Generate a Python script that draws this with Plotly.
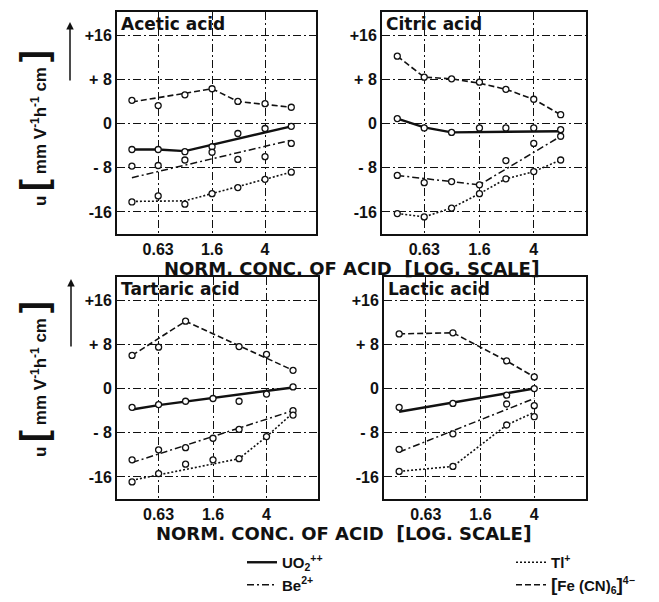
import plotly.graph_objects as go

# ---------------- data ----------------
conc = [0.4, 0.63, 1.0, 1.6, 2.5, 4.0, 6.3]          # normality of acid (log scale)
x_tickvals = [0.63, 1.6, 4.0]
x_ticktext = ["0.63", "1.6", "4"]
y_tickvals = [-16, -8, 0, 8, 16]
y_ticktext = ["-16", "- 8", "0", "+ 8", "+16"]

panel_titles = ["Acetic acid", "Citric acid", "Tartaric acid", "Lactic acid"]
ion_names = ["UO<sub>2</sub><sup>++</sup>", "Be<sup>2+</sup>", "Tl<sup>+</sup>",
             "<span style='font-size:19px'>[</span>Fe (CN)<sub>6</sub><span style='font-size:19px'>]</span><sup>4−</sup>"]

# measured mobilities u [mm V^-1 h^-1 cm] (points) and drawn curves (fit)
acetic_uo2_pts = [-4.7, -4.7, -5.1, -4.2, -1.8, -0.9, -0.5]
acetic_be_pts = [-7.7, -7.6, -6.6, -5.2, -6.5, -6.0, -3.6]
acetic_tl_pts = [-14.2, -13.1, -14.6, -12.7, -11.6, -10.1, -8.8]
acetic_fe_pts = [4.2, 3.25, 5.2, 6.3, 4.0, 3.6, 2.95]
acetic_uo2_fit = [-4.7, -4.7, -5.0, None, None, None, -0.5]
acetic_be_fit = [-9.8, None, None, None, None, None, -3.0]
acetic_tl_fit = [-14.1, None, -14.0, None, None, None, -8.8]
acetic_fe_fit = [3.9, None, None, 6.3, 4.0, None, 2.95]

citric_uo2_pts = [0.9, -0.8, -1.6, -0.8, -0.8, -0.8, -1.1]
citric_be_pts = [-9.4, -10.7, -10.5, -11.1, -6.7, -3.6, -2.3]
citric_tl_pts = [-16.3, -16.9, -15.3, -12.7, -10.0, -8.7, -6.6]
citric_fe_pts = [12.2, 8.4, 8.1, 7.5, 6.2, 4.4, 1.6]
citric_uo2_fit = [0.9, -0.7, -1.6, None, None, None, -1.4]
citric_be_fit = [-9.4, None, -10.5, -11.1, None, None, -2.3]
citric_tl_fit = [-16.3, -16.9, -15.3, -12.7, -10.0, -8.7, -6.6]
citric_fe_fit = [12.2, 8.4, 8.1, 7.3, 6.2, 4.4, 1.6]

tartaric_uo2_pts = [-3.4, -2.9, -2.3, -1.8, -2.3, -1.0, 0.3]
tartaric_be_pts = [-12.9, -11.1, -10.7, -9.0, -7.4, None, -4.0]
tartaric_tl_pts = [-16.9, -15.4, -13.7, -12.9, -12.7, -8.7, -4.8]
tartaric_fe_pts = [6.0, 7.5, 12.2, None, 7.6, 6.2, 3.3]
tartaric_uo2_fit = [-3.8, -3.0, None, None, None, None, 0.2]
tartaric_be_fit = [-13.4, None, None, None, None, None, -4.0]
tartaric_tl_fit = [-16.6, None, None, None, -12.7, -8.7, -4.4]
tartaric_fe_fit = [6.0, None, 12.2, None, None, None, 3.3]

lactic_uo2_pts = [-3.4, None, -2.7, None, -1.2, 0.0, None]
lactic_be_pts = [-11.0, None, -8.2, None, -2.8, -3.1, None]
lactic_tl_pts = [-15.0, None, -14.1, None, -6.6, -5.1, None]
lactic_fe_pts = [9.9, None, 10.1, None, 5.0, 2.1, None]
lactic_uo2_fit = [-4.2, None, None, None, None, 0.0, None]
lactic_be_fit = [-11.5, None, None, None, None, -1.8, None]
lactic_tl_fit = [-15.0, None, -14.1, None, -6.6, -4.3, None]
lactic_fe_fit = [9.9, None, 10.1, None, 5.0, 2.1, None]

panels = [
    [(acetic_uo2_pts, acetic_uo2_fit), (acetic_be_pts, acetic_be_fit),
     (acetic_tl_pts, acetic_tl_fit), (acetic_fe_pts, acetic_fe_fit)],
    [(citric_uo2_pts, citric_uo2_fit), (citric_be_pts, citric_be_fit),
     (citric_tl_pts, citric_tl_fit), (citric_fe_pts, citric_fe_fit)],
    [(tartaric_uo2_pts, tartaric_uo2_fit), (tartaric_be_pts, tartaric_be_fit),
     (tartaric_tl_pts, tartaric_tl_fit), (tartaric_fe_pts, tartaric_fe_fit)],
    [(lactic_uo2_pts, lactic_uo2_fit), (lactic_be_pts, lactic_be_fit),
     (lactic_tl_pts, lactic_tl_fit), (lactic_fe_pts, lactic_fe_fit)],
]

# ---------------- styles ----------------
INK = "#111111"
FONT = "Liberation Sans"
WIDE = "DejaVu Sans"
W, H = 659, 602
line_styles = [
    dict(color=INK, width=2.4, dash="solid"),
    dict(color=INK, width=1.5, dash="7px,3px,2px,3px"),
    dict(color=INK, width=1.6, dash="2px,2px"),
    dict(color=INK, width=1.6, dash="6px,3px"),
]
legend_of = ["legend", "legend", "legend2", "legend2"]

# panel geometry in pixels (left, right, top, bottom)
boxes = [(117, 316, 12, 234), (382, 586, 12, 234),
         (117, 318, 277, 499), (384, 586, 277, 499)]

fig = go.Figure()
for p, series in enumerate(panels):
    xa = "x" if p == 0 else f"x{p+1}"
    ya = "y" if p == 0 else f"y{p+1}"
    for i, (pts, fit) in enumerate(series):
        fig.add_trace(go.Scatter(
            x=conc, y=fit, mode="lines", connectgaps=True,
            line=line_styles[i], name=ion_names[i],
            showlegend=(p == 0), legend=legend_of[i],
            xaxis=xa, yaxis=ya, hoverinfo="skip"))
        fig.add_trace(go.Scatter(
            x=conc, y=pts, mode="markers", showlegend=False,
            marker=dict(symbol="circle", size=6, color="white",
                        line=dict(color=INK, width=1.3)),
            xaxis=xa, yaxis=ya))

tickfont = dict(size=16, family=FONT, weight="bold")
layout = dict(
    width=W, height=H, margin=dict(l=0, r=0, t=0, b=0),
    paper_bgcolor="white", plot_bgcolor="white",
    font=dict(family=FONT, color=INK, size=16, weight="bold"),
)
for p, (l, r, t, b) in enumerate(boxes):
    sx = "" if p == 0 else str(p + 1)
    layout[f"xaxis{sx}"] = dict(
        domain=[l / W, r / W], type="log", range=[-0.51, 0.985], automargin=False,
        anchor=f"y{sx}", tickvals=x_tickvals, ticktext=x_ticktext,
        showline=True, linewidth=2, linecolor=INK, mirror=True,
        showgrid=True, gridcolor=INK, gridwidth=1, griddash="8px,3px,2px,3px",
        ticks="", zeroline=False, tickfont=tickfont)
    layout[f"yaxis{sx}"] = dict(
        domain=[1 - b / H, 1 - t / H], range=[-20, 20.2], automargin=False,
        anchor=f"x{sx}", tickvals=y_tickvals, ticktext=y_ticktext,
        showline=True, linewidth=2, linecolor=INK, mirror=True,
        showgrid=True, gridcolor=INK, gridwidth=1, griddash="8px,3px,2px,3px",
        ticks="", zeroline=False, tickfont=tickfont)

legfont = dict(size=15, family=FONT, weight="bold")
layout["legend"] = dict(x=242 / W, y=1 - 546 / H, xanchor="left", yanchor="top",
                        bgcolor="rgba(0,0,0,0)", font=legfont,
                        itemwidth=30, tracegroupgap=0)
layout["legend2"] = dict(x=511 / W, y=1 - 546 / H, xanchor="left", yanchor="top",
                         bgcolor="rgba(0,0,0,0)", font=legfont,
                         itemwidth=30, tracegroupgap=0)
fig.update_layout(**layout)

ann = []
for p, title in enumerate(panel_titles):
    sx = "" if p == 0 else str(p + 1)
    ann.append(dict(text=title, xref=f"x{sx} domain", yref=f"y{sx} domain",
                    x=0.012, y=1, xanchor="left", yanchor="top", yshift=0,
                    showarrow=False, font=dict(size=17, family=WIDE, weight="bold")))

ylab = ("u <span style='font-size:36px'>[</span> mm V<sup>-1</sup>h<sup>-1</sup> cm "
        "<span style='font-size:36px'>]</span>")
for yc in (128, 379):
    ann.append(dict(text=ylab, xref="paper", yref="paper", x=33 / W, y=1 - yc / H,
                    xanchor="center", yanchor="middle",
                    textangle=-90, showarrow=False,
                    font=dict(size=17, family=FONT, weight="bold")))
for (xa, ytail, yhead) in ((70, 82, 22), (71, 348, 279)):
    ann.append(dict(text="", xref="paper", yref="paper", x=xa / W, y=1 - yhead / H,
                    ax=0, ay=ytail - yhead, showarrow=True, arrowhead=2,
                    arrowsize=1, arrowwidth=1.5, arrowcolor=INK))

xtitle = ("NORM. CONC. OF ACID &nbsp;<span style='font-size:19px'>[</span>LOG. SCALE"
          "<span style='font-size:19px'>]</span>")
for (xc, yc) in ((352, 268), (344, 533)):
    ann.append(dict(text=xtitle, xref="paper", yref="paper", x=xc / W, y=1 - yc / H,
                    xanchor="center", yanchor="middle",
                    showarrow=False, font=dict(size=18, family=WIDE, weight="bold")))
fig.update_layout(annotations=ann)

fig.write_html("out.html", config={"displayModeBar": False},
               post_script="document.body.style.margin='0';document.body.style.padding='0';"
                           "document.documentElement.style.overflow='hidden';")
